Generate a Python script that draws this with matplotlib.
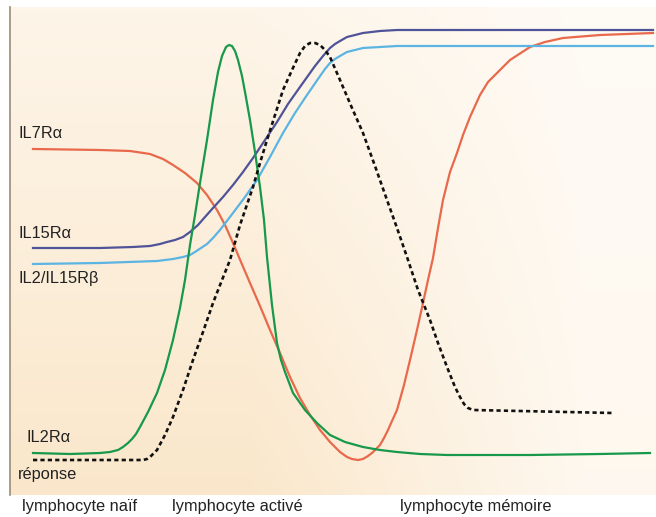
import numpy as np
import matplotlib.pyplot as plt
from matplotlib.colors import to_rgb

# horizontal position (arbitrary time units) and expression level
il7_x = [33, 100, 130, 150, 163, 173, 185, 197, 207, 217, 225, 233, 241, 250, 260, 270, 280, 290, 300, 310,
         320, 330, 340, 347, 352, 358, 363, 368, 372, 376, 380, 384, 388, 392, 397, 404, 410, 417, 423, 428,
         433, 438, 443, 450, 457, 463, 470, 480, 488, 497, 510, 530, 545, 563, 600, 653]
il7_y = [346, 345, 344, 341, 336, 330, 322, 312, 300, 285, 270, 252, 233, 212, 189, 165, 142, 118, 97, 80,
         65, 53, 43, 38, 36, 35, 36, 39, 42, 46, 50, 57, 65, 74, 85, 110, 135, 165, 192, 215,
         237, 267, 295, 323, 342, 360, 378, 400, 413, 422, 435, 448, 453, 457, 460, 462]

il15_x = [33, 100, 133, 150, 160, 167, 175, 183, 190, 198, 205, 213, 223, 233, 243, 253, 265, 277, 288,
          300, 315, 323, 330, 335, 340, 347, 355, 363, 380, 397, 653]
il15_y = [247, 247, 248, 249, 251, 253, 255, 258, 263, 270, 278, 287, 298, 310, 323, 337, 355, 373, 391,
          408, 429, 439, 447, 451, 454, 458, 460, 462, 464, 465, 465]

il2b_x = [33, 100, 157, 173, 183, 190, 195, 201, 207, 213, 220, 233, 245, 257, 270, 283, 295, 307, 318,
          325, 330, 335, 340, 347, 355, 363, 380, 397, 653]
il2b_y = [231, 232, 234, 236, 238, 240, 243, 247, 251, 257, 265, 282, 298, 315, 338, 362, 382, 400, 416,
          426, 432, 436, 439, 443, 445, 447, 448, 449, 449]

il2ra_x = [33, 70, 100, 110, 118, 123, 128, 132, 136, 140, 148, 157, 165, 173, 180, 185, 190, 195, 200,
           207, 213, 218, 222, 226, 229, 232, 235, 238, 242, 245, 250, 255, 260, 264, 267, 272, 277, 281,
           285, 293, 305, 317, 330, 345, 363, 380, 397, 420, 447, 530, 600, 650]
il2ra_y = [42, 41, 42, 43, 45, 48, 52, 56, 61, 68, 83, 102, 125, 155, 187, 215, 250, 280, 312,
           355, 395, 423, 439, 448, 450, 449, 444, 435, 419, 403, 375, 343, 308, 275, 238, 190, 152, 135,
           123, 102, 85, 72, 60, 53, 48, 45, 43, 41, 40, 40, 41, 42]

rep_x = [33, 100, 143, 147, 150, 153, 157, 165, 173, 183, 193, 203, 213, 222, 230, 240, 253, 260, 267,
         275, 283, 292, 300, 305, 310, 315, 320, 325, 330, 340, 352, 363, 375, 387, 397, 407, 418, 430,
         438, 447, 455, 460, 464, 468, 473, 520, 613]
rep_y = [35, 35, 35, 36, 38, 41, 45, 60, 78, 105, 135, 163, 192, 215, 235, 270, 308, 332, 355,
         380, 405, 425, 442, 449, 452, 452, 450, 445, 438, 415, 387, 362, 329, 295, 267, 238, 205, 175,
         152, 128, 108, 98, 91, 87, 85, 84, 82]

labels = ['IL7Rα', 'IL15Rα', 'IL2/IL15Rβ', 'IL2Rα', 'réponse']
stages = ['lymphocyte naïf', 'lymphocyte activé', 'lymphocyte mémoire']

plt.rcParams['font.family'] = ['Liberation Sans', 'DejaVu Sans']

fig = plt.figure(figsize=(6.56, 5.17), dpi=100)
fig.patch.set_facecolor('white')
ax = fig.add_axes([10 / 656, 22 / 517, 646 / 656, 488 / 517])
ax.set_xlim(10, 656)
ax.set_ylim(0, 488)

# peach background, strongest low and to the left, fading to the right and top
gx = np.linspace(10, 656, 300)
gy = np.linspace(0, 488, 200)
X, Y = np.meshgrid(gx, gy)
fx = np.clip(1.0 - (X - 250) / 420, 0.2, 1.0)
fy = 0.3 + 0.6 * (1 - Y / 488)
s = (fx * fy)[..., None]
light = np.array(to_rgb('#fffcf8'))
dark = np.array(to_rgb('#fae5c6'))
img = light + s * (dark - light)
ax.imshow(img, extent=(10, 656, 0, 488), origin='lower', aspect='auto', zorder=0)

ax.plot(il7_x, il7_y, color='#e8694b', lw=1.6, zorder=3)
ax.plot(il15_x, il15_y, color='#4f5398', lw=1.6, zorder=3)
ax.plot(il2b_x, il2b_y, color='#5cb4e2', lw=1.6, zorder=3)
ax.plot(il2ra_x, il2ra_y, color='#17984b', lw=1.6, zorder=3)
ax.plot(rep_x, rep_y, color='#111111', lw=1.9, dashes=(1.6, 1.2), zorder=4)

for sp in ['top', 'right', 'bottom']:
    ax.spines[sp].set_visible(False)
ax.spines['left'].set_color('#9a8c78')
ax.spines['left'].set_linewidth(1.2)
ax.set_xticks([])
ax.set_yticks([])

lab_pos = [(18, 362), (18, 262), (18, 216), (27, 58), (18, 21)]
for t, (x, y) in zip(labels, lab_pos):
    ax.text(x, y, t, fontsize=11.8, color='#222222', ha='left', va='center', zorder=5)

for t, x in zip(stages, [22, 172, 400]):
    fig.text(x / 656, 11 / 517, t, fontsize=11.8, color='#222222', ha='left', va='center')

fig.savefig('out.png', dpi=100)
